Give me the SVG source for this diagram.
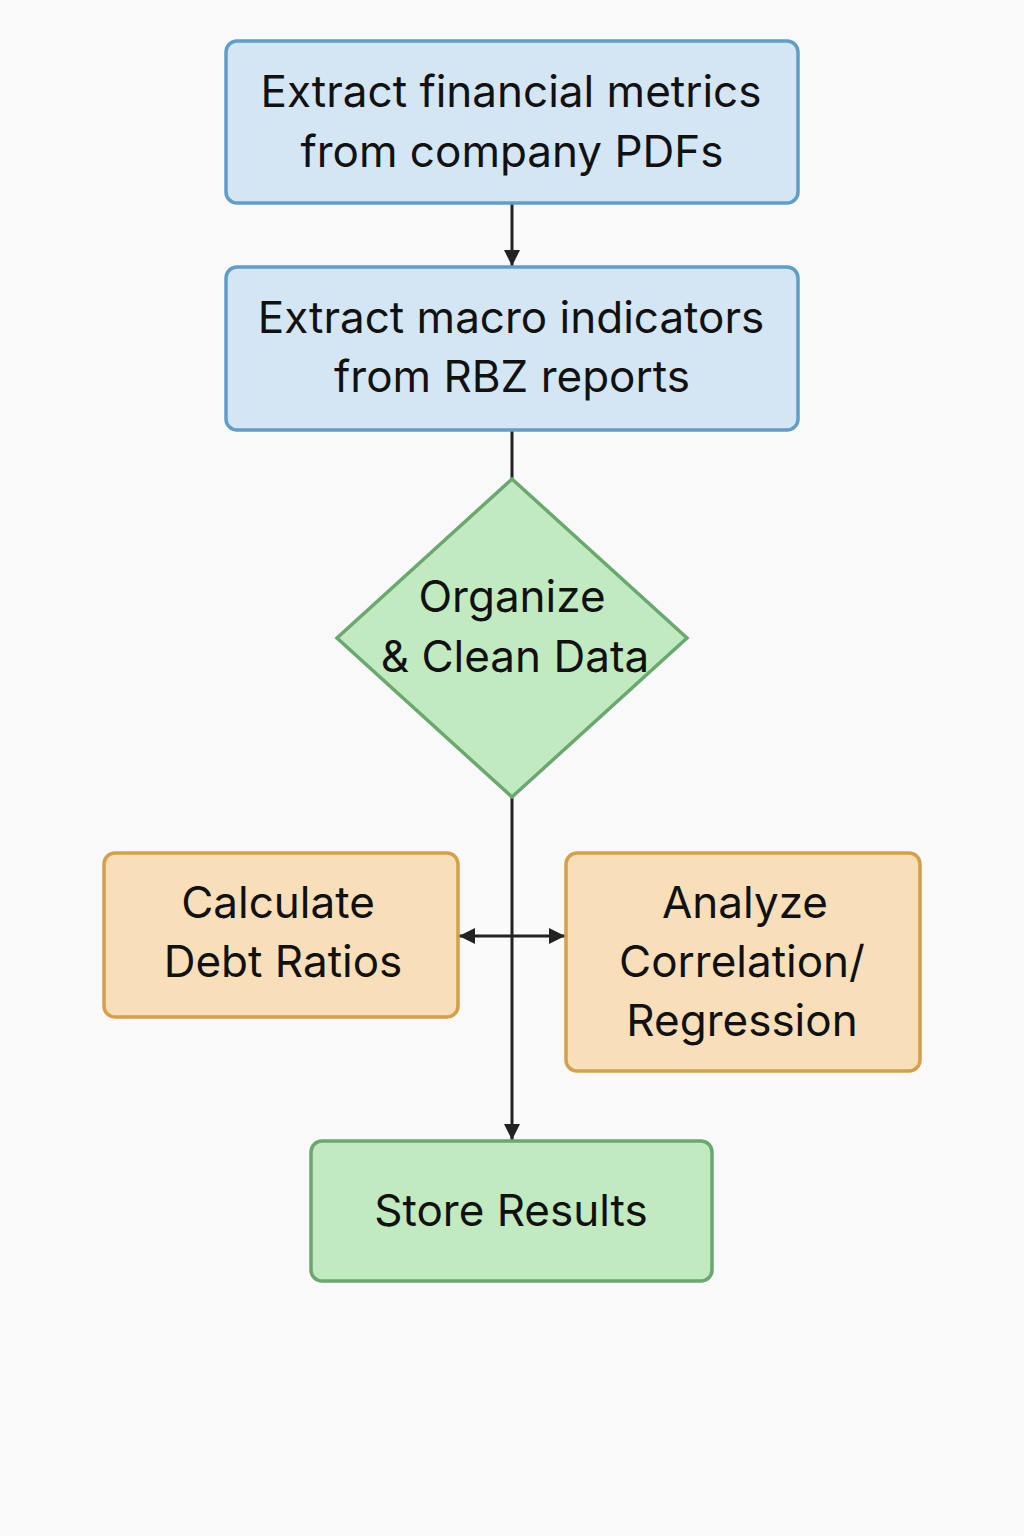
<svg xmlns="http://www.w3.org/2000/svg" width="1024" height="1536" viewBox="0 0 1024 1536">
<defs>
<style>
.t{font-family:Inter,"Noto Sans",sans-serif;font-size:44px;fill:#111;text-anchor:middle}
.blue{fill:#d4e6f3;stroke:#5f9ec9;stroke-width:3.5}
.orange{fill:#f9dfb9;stroke:#d4a04a;stroke-width:3.5}
.green{fill:#c2eac0;stroke:#6aa870;stroke-width:3.5}
.c{stroke:#222;stroke-width:3;fill:none}
</style>
<marker id="a" viewBox="0 0 16 16" refX="16" refY="8" markerWidth="16" markerHeight="16" orient="auto" markerUnits="userSpaceOnUse">
<path d="M0,0 L16,8 L0,16 z" fill="#222"/>
</marker>
</defs>
<rect width="1024" height="1536" fill="#f9f9f9"/>
<g id="connectors">
<line class="c" x1="512" y1="204" x2="512" y2="266" marker-end="url(#a)"/>
<line class="c" x1="512" y1="430" x2="512" y2="480"/>
<line class="c" x1="512" y1="797" x2="512" y2="1140" marker-end="url(#a)"/>
<line class="c" x1="512" y1="936" x2="459" y2="936" marker-end="url(#a)"/>
<line class="c" x1="512" y1="936" x2="565" y2="936" marker-end="url(#a)"/>
</g>
<g id="n1">
<rect class="blue" x="226" y="41" width="572" height="162" rx="11"/>
<text class="t" x="511" y="107">Extract financial metrics</text>
<text class="t" x="512" y="167">from company PDFs</text>
</g>
<g id="n2">
<rect class="blue" x="226" y="267" width="572" height="163" rx="11"/>
<text class="t" x="511" y="333">Extract macro indicators</text>
<text class="t" x="512" y="392">from RBZ reports</text>
</g>
<g id="n3">
<polygon class="green" points="512,479 687,638 512,797 337,638"/>
<text class="t" x="512" y="612">Organize</text>
<text class="t" x="515" y="672">&amp; Clean Data</text>
</g>
<g id="n4">
<rect class="orange" x="104" y="853" width="354" height="164" rx="11"/>
<text class="t" x="278" y="918">Calculate</text>
<text class="t" x="283" y="977">Debt Ratios</text>
</g>
<g id="n5">
<rect class="orange" x="566" y="853" width="354" height="218" rx="11"/>
<text class="t" x="745" y="918">Analyze</text>
<text class="t" x="742" y="977">Correlation/</text>
<text class="t" x="742" y="1036">Regression</text>
</g>
<g id="n6">
<rect class="green" x="311" y="1141" width="401" height="140" rx="11"/>
<text class="t" x="511" y="1226">Store Results</text>
</g>
</svg>
